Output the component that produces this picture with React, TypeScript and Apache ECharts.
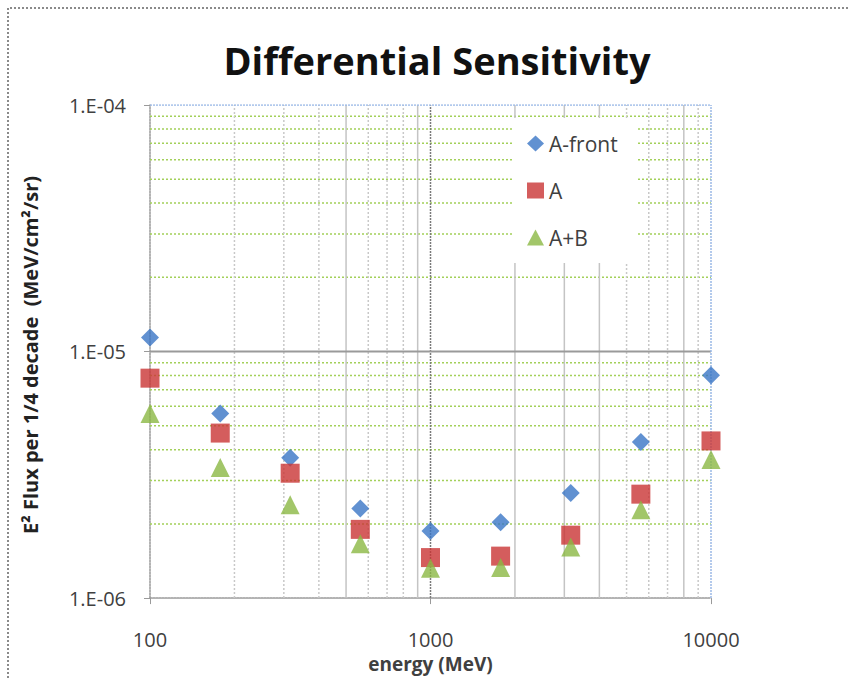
import React, { useEffect, useRef } from "react";
import * as echarts from "echarts";

// Energy bins (MeV), quarter-decade steps
const energies = [100, 178, 316, 562, 1000, 1778, 3162, 5623, 10000];

// E^2 flux sensitivity per 1/4 decade (MeV/cm^2/sr)
const aFront = [1.14e-5, 5.61e-6, 3.71e-6, 2.31e-6, 1.87e-6, 2.03e-6, 2.67e-6, 4.3e-6, 8.02e-6];
const aOnly = [7.8e-6, 4.67e-6, 3.21e-6, 1.9e-6, 1.46e-6, 1.48e-6, 1.8e-6, 2.64e-6, 4.34e-6];
const aPlusB = [5.61e-6, 3.39e-6, 2.39e-6, 1.66e-6, 1.32e-6, 1.33e-6, 1.61e-6, 2.28e-6, 3.65e-6];

// Axis ranges
const xRange = [100, 10000];
const yRange = [1e-6, 1e-4];

// Minor log grid positions
const yMinorTicks = [2e-6, 3e-6, 4e-6, 5e-6, 6e-6, 7e-6, 8e-6, 9e-6, 2e-5, 3e-5, 4e-5, 5e-5, 6e-5, 7e-5, 8e-5, 9e-5];
const xMinorTicks = [200, 300, 400, 500, 600, 700, 800, 900, 2000, 3000, 4000, 5000, 6000, 7000, 8000, 9000];
const xSolidMinor = [500, 900, 2000, 3000, 4000, 8000];

const FONT = "'Open Sans', 'Liberation Sans', sans-serif";
const TEXT = "#404040";

// A straight grid line drawn as a two-point line series
function gridSeries(data: number[][], lineStyle: any) {
  return {
    type: "line",
    data,
    silent: true,
    symbol: "none",
    z: 1,
    lineStyle,
    emphasis: { disabled: true },
    tooltip: { show: false },
  };
}

export default function App() {
  const ref = useRef<HTMLDivElement>(null);

  useEffect(() => {
    if (!ref.current) return;
    const chart = echarts.init(ref.current, null, { renderer: "svg" });

    const pair = (ys: number[]) => energies.map((e, i) => [e, ys[i]]);
    const hLine = (v: number) => [[xRange[0], v], [xRange[1], v]];
    const vLine = (v: number) => [[v, yRange[0]], [v, yRange[1]]];

    const grids: any[] = [
      ...yMinorTicks.map((v) =>
        gridSeries(hLine(v), { color: "#a3d05a", width: 1.5, type: [2, 2] })
      ),
      ...xMinorTicks.map((v) =>
        gridSeries(
          vLine(v),
          xSolidMinor.includes(v)
            ? { color: "#c4c4c4", width: 1.5, type: "solid" }
            : { color: "#c8c8c8", width: 1.5, type: [2, 2] }
        )
      ),
      gridSeries(vLine(1000), { color: "#7a7a7a", width: 1.5, type: [2, 1] }),
      gridSeries(hLine(1e-5), { color: "#9a9a9a", width: 2, type: "solid" }),
      gridSeries(hLine(yRange[1]), { color: "#9bb9e6", width: 1.5, type: [2, 1] }),
      gridSeries(vLine(xRange[1]), { color: "#9bb9e6", width: 1.5, type: [2, 1] }),
    ];

    chart.setOption({
      animation: false,
      backgroundColor: "#ffffff",
      title: {
        text: "Differential Sensitivity",
        left: 432,
        top: 36,
        textAlign: "center",
        textStyle: { fontFamily: FONT, fontSize: 38, fontWeight: "bold", color: "#111" },
      },
      graphic: [
        {
          type: "polyline",
          shape: { points: [[8, 678], [8, 8], [850, 8]] },
          style: { fill: "none", stroke: "#8a8a8a", lineWidth: 2, lineDash: [2, 2] },
          silent: true,
          z: 0,
        },
        {
          type: "text",
          x: 30,
          y: 355,
          rotation: Math.PI / 2,
          style: {
            text: "E\u00B2 Flux per 1/4 decade  (MeV/cm\u00B2/sr)",
            fontFamily: FONT,
            fontSize: 20,
            fontWeight: "bold",
            fill: "#222",
            align: "center",
            verticalAlign: "middle",
          },
          silent: true,
        },
      ],
      legend: {
        orient: "vertical",
        left: 513,
        top: 118,
        backgroundColor: "#ffffff",
        padding: [15, 20, 15, 14],
        itemWidth: 17,
        itemHeight: 16,
        itemGap: 26,
        textStyle: { fontFamily: FONT, fontSize: 21, color: TEXT },
        data: [
          { name: "A-front", icon: "diamond" },
          { name: "A", icon: "rect" },
          { name: "A+B", icon: "triangle" },
        ],
        z: 10,
      },
      grid: { left: 150, top: 105, right: 139, bottom: 71 },
      xAxis: {
        type: "log",
        logBase: 10,
        min: xRange[0],
        max: xRange[1],
        name: "energy (MeV)",
        nameLocation: "middle",
        nameGap: 47,
        nameTextStyle: { fontFamily: FONT, fontSize: 19, fontWeight: "bold", color: TEXT },
        axisLine: { show: true, lineStyle: { color: "#9a9a9a", width: 1.5, type: [2, 1] } },
        axisTick: { show: true, length: 6, inside: false, lineStyle: { color: "#9a9a9a" } },
        axisLabel: {
          margin: 31,
          fontFamily: FONT,
          fontSize: 20,
          color: TEXT,
          formatter: (v: number) => String(Math.round(v)),
        },
        splitLine: { show: false },
      },
      yAxis: {
        type: "log",
        logBase: 10,
        min: yRange[0],
        max: yRange[1],
        axisLine: { show: true, lineStyle: { color: "#9a9a9a", width: 1.5, type: [2, 1] } },
        axisTick: { show: true, length: 6, lineStyle: { color: "#9a9a9a" } },
        axisLabel: {
          margin: 24,
          fontFamily: FONT,
          fontSize: 20,
          color: TEXT,
          formatter: (v: number) => {
            const exp = Math.round(Math.log10(v));
            const abs = Math.abs(exp);
            return "1.E" + (exp < 0 ? "-" : "+") + (abs < 10 ? "0" : "") + abs;
          },
        },
        splitLine: { show: false },
      },
      series: [
        ...grids,
        {
          name: "A-front",
          type: "scatter",
          symbol: "diamond",
          symbolSize: 18,
          itemStyle: { color: "#3a76c6" },
          data: pair(aFront),
          z: 3,
        },
        {
          name: "A",
          type: "scatter",
          symbol: "rect",
          symbolSize: 19,
          itemStyle: { color: "#c93535" },
          data: pair(aOnly),
          z: 3,
        },
        {
          name: "A+B",
          type: "scatter",
          symbol: "triangle",
          symbolSize: 19,
          itemStyle: { color: "#8bb843" },
          data: pair(aPlusB),
          z: 3,
        },
      ],
    });

    return () => chart.dispose();
  }, []);

  return (
    <div
      ref={ref}
      style={{ position: "absolute", left: 0, top: 0, width: 850, height: 678, overflow: "hidden" }}
    />
  );
}
